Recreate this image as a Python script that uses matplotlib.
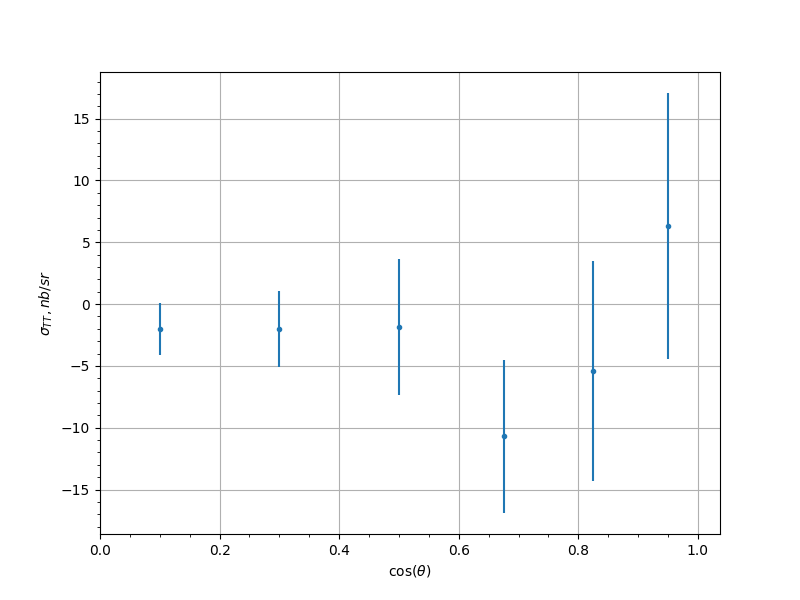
import matplotlib
matplotlib.use("Agg")
import matplotlib.pyplot as plt

cos_theta = [0.1, 0.3, 0.5, 0.675, 0.825, 0.95]
sigma_tt = [-2.03, -2.03, -1.87, -10.7, -5.43, 6.32]
sigma_err = [2.1, 3.05, 5.5, 6.2, 8.9, 10.75]

fig, ax = plt.subplots(figsize=(8, 6), dpi=100)
ax.errorbar(cos_theta, sigma_tt, yerr=sigma_err, fmt='.')
ax.set_xlim(0, 1.037)
ax.set_xlabel(r'cos($\theta$)')
ax.set_ylabel(r'$\sigma_{TT}, nb/sr$')
ax.minorticks_on()
ax.grid(True, which='major')

plt.savefig('out.png', dpi=100)
